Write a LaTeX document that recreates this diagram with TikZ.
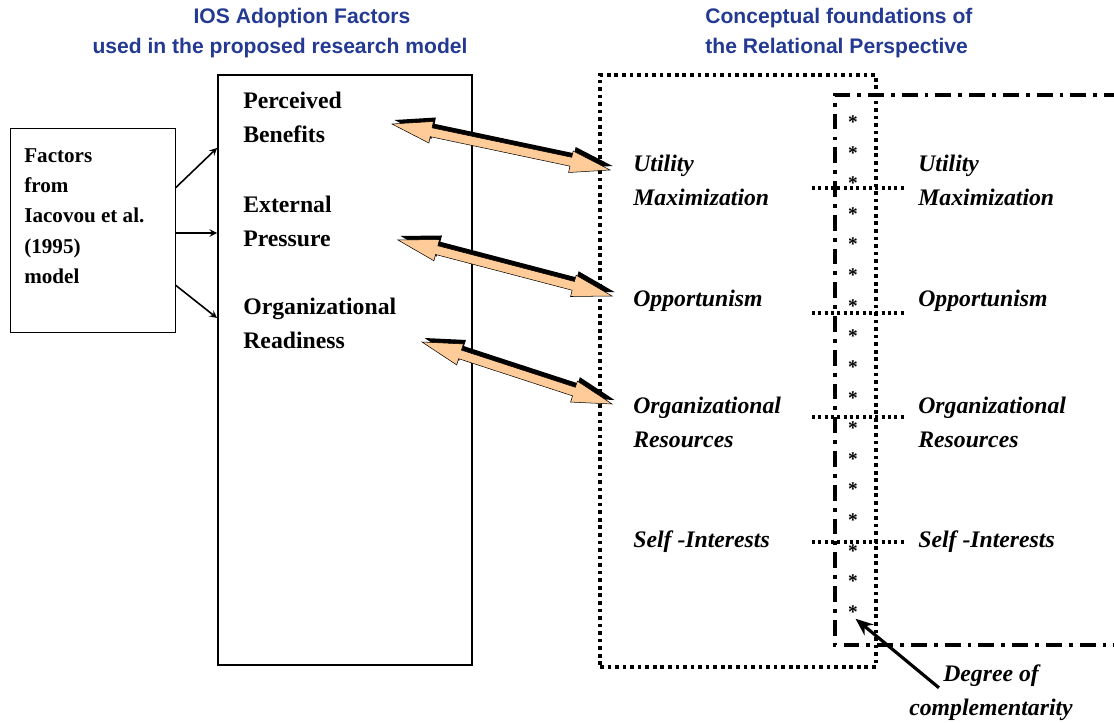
\documentclass[tikz,border=0pt]{standalone}
\usepackage{fontspec}
\setmainfont{Liberation Serif}
\setsansfont{Liberation Sans}
\usepackage{tikz}
\usetikzlibrary{arrows,arrows.meta,positioning,calc}

\definecolor{titleblue}{RGB}{36,58,146}
\definecolor{peach}{RGB}{255,204,153}

% outline of a two-headed block arrow from #1 to #2
\newcommand{\blockpath}[2]{(#1)
  -- ($(#1)!0.8cm!(#2)!0.22cm!90:(#2)$)
  -- ($(#1)!0.8cm!(#2)!0.09cm!90:(#2)$)
  -- ($(#2)!0.8cm!(#1)!0.09cm!-90:(#1)$)
  -- ($(#2)!0.8cm!(#1)!0.22cm!-90:(#1)$)
  -- (#2)
  -- ($(#2)!0.8cm!(#1)!0.22cm!90:(#1)$)
  -- ($(#2)!0.8cm!(#1)!0.09cm!90:(#1)$)
  -- ($(#1)!0.8cm!(#2)!0.09cm!-90:(#2)$)
  -- ($(#1)!0.8cm!(#2)!0.22cm!-90:(#2)$)
  -- cycle}
\newcommand{\blockarrow}[2]{%
  \fill[black, transform canvas={shift={(0.05cm,0.08cm)}}] \blockpath{#1}{#2};
  \filldraw[fill=peach, draw=black, line width=0.3pt] \blockpath{#1}{#2};}

\begin{document}
\begin{tikzpicture}[
    title/.style={font=\sffamily\bfseries\fontsize{12}{17}\selectfont, text=titleblue, inner sep=0pt},
    factor/.style={font=\bfseries\fontsize{13.5}{19.3}\selectfont, align=left, anchor=west, inner sep=0pt},
    concept/.style={font=\bfseries\itshape\fontsize{13.5}{19.3}\selectfont, align=left, anchor=west, inner sep=0pt},
    solidbox/.style={rectangle, draw, line width=1.1pt},
    dotbox/.style={rectangle, draw, line width=2.1pt, dash pattern=on 2.1pt off 2.2pt},
    dashdotline/.style={line width=2.2pt, dash pattern=on 9pt off 4pt on 2.2pt off 4pt},
    dotline/.style={line width=1.8pt, dash pattern=on 1.8pt off 1.8pt},
    arrow/.style={->, >=stealth, line width=0.9pt},
    pointer/.style={-{Stealth[length=10pt, width=8pt]}, line width=1.8pt},
    star/.style={font=\bfseries\fontsize{11}{11}\selectfont, inner sep=0pt},
]
    \useasboundingbox (0,0) rectangle (22.28,-14.46);

    % headings
    \node[title] (ostitle) at (6.04,-0.36) {IOS Adoption Factors};
    \node[title] (ostitle2) at (5.6,-0.96) {used in the proposed research model};
    \node[title, align=left, anchor=west] (reltitle) at (14.1,-0.66)
        {Conceptual foundations of\\the Relational Perspective};

    % Iacovou model box
    \node[rectangle, draw, thin, minimum width=3.3cm, minimum height=4.08cm] (iacovou) at (1.85,-4.6) {};
    \node[font=\bfseries\fontsize{12}{17.15}\selectfont, align=left, anchor=north west, inner sep=0pt]
        (iacovoutext) at (0.48,-2.97) {Factors\\from\\Iacovou et al.\\(1995)\\model};

    % adoption factors
    \node[solidbox, minimum width=5.08cm, minimum height=11.8cm] (mainbox) at (6.9,-7.4) {};
    \node[factor] (benefits) at (4.86,-2.34) {Perceived\\Benefits};
    \node[factor] (pressure) at (4.86,-4.42) {External\\Pressure};
    \node[factor] (readiness) at (4.86,-6.46) {Organizational\\Readiness};

    \draw[arrow] ([yshift=0.84cm]iacovou.east) -- ([yshift=4.44cm]mainbox.west);
    \draw[arrow] ([yshift=-0.06cm]iacovou.east) -- ([yshift=2.74cm]mainbox.west);
    \draw[arrow] ([yshift=-1.1cm]iacovou.east) -- ([yshift=1.04cm]mainbox.west);

    % relational perspective frames
    \node[dotbox, minimum width=5.52cm, minimum height=11.84cm] (relbox) at (14.76,-7.42) {};
    \draw[dashdotline] (22.4,-1.9) -- (16.7,-1.9) -- (16.7,-12.9) -- (22.4,-12.9);

    % degree of complementarity
    \foreach \i in {0,...,16}
        \node[star] (star\i) at (17.06,{-2.44-0.6125*\i}) {*};

    % concepts, both sides
    \node[concept] (utility) at (12.66,-3.6) {Utility\\Maximization};
    \node[concept] (opport) at (12.66,-6.02) {Opportunism};
    \node[concept] (resources) at (12.66,-8.44) {Organizational\\Resources};
    \node[concept] (selfint) at (12.66,-10.84) {Self -Interests};

    \node[concept] (utility2) at (18.36,-3.6) {Utility\\Maximization};
    \node[concept] (opport2) at (18.36,-6.02) {Opportunism};
    \node[concept] (resources2) at (18.36,-8.44) {Organizational\\Resources};
    \node[concept] (selfint2) at (18.36,-10.84) {Self -Interests};

    \coordinate (linestart) at (16.24,0);
    \draw[dotline] ([yshift=-0.16cm]linestart |- utility2.west) -- ([xshift=-0.26cm, yshift=-0.16cm]utility2.west);
    \draw[dotline] ([yshift=-0.24cm]linestart |- opport2.west) -- ([xshift=-0.26cm, yshift=-0.24cm]opport2.west);
    \draw[dotline] ([yshift=0.1cm]linestart |- resources2.west) -- ([xshift=-0.26cm, yshift=0.1cm]resources2.west);
    \draw[dotline] (linestart |- selfint2.west) -- ([xshift=-0.26cm]selfint2.west);

    % links between factors and concepts
    \coordinate (benefits-r) at (7.84,-2.48);
    \coordinate (utility-l) at (12.2,-3.4);
    \coordinate (pressure-r) at (7.96,-4.8);
    \coordinate (opport-l) at (12.24,-5.92);
    \coordinate (readiness-r) at (8.44,-6.84);
    \coordinate (resources-l) at (12.24,-8.08);
    \blockarrow{benefits-r}{utility-l}
    \blockarrow{pressure-r}{opport-l}
    \blockarrow{readiness-r}{resources-l}

    \node[concept, align=center, anchor=center] (degree) at (19.82,-13.86) {Degree of\\complementarity};
    \draw[pointer] ($(degree.north west)+(0.6,-0.46)$) -- ([xshift=0.05cm]star16.south);
\end{tikzpicture}
\end{document}
